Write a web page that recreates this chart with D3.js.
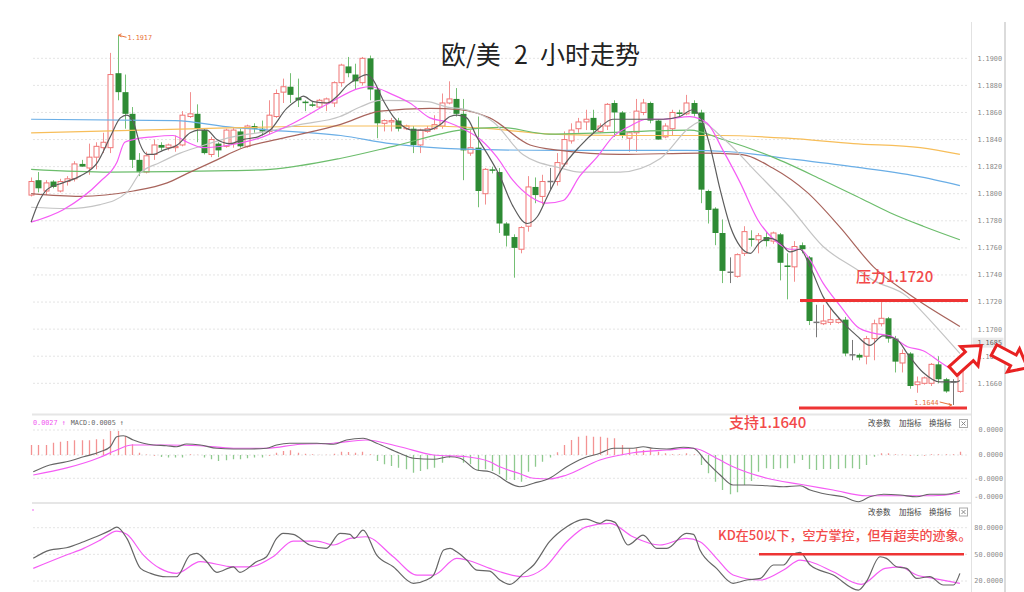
<!DOCTYPE html>
<html><head><meta charset="utf-8">
<script src="https://cdn.jsdelivr.net/npm/d3@7/dist/d3.min.js"></script>
<style>body{margin:0;background:#fff}svg{display:block}</style>
</head><body>
<svg id="c" width="1024" height="592"></svg>
<script>
// ---------------- DATA ----------------
const opens = [1.1799,1.1810,1.1802,1.1809,1.1802,1.1809,1.1811,1.1822,1.1819,1.1827,
1.1834,1.1834,1.1889,1.1875,1.1859,1.1825,1.1816,1.1829,1.1836,1.1834,
1.1834,1.1836,1.1857,1.1859,1.1847,1.1829,1.1837,1.1835,1.1837,1.1846,
1.1835,1.1850,1.1848,1.1846,1.1857,1.1875,1.1879,1.1871,1.1868,1.1866,
1.1864,1.1867,1.1867,1.1882,1.1894,1.1888,1.1882,1.1900,1.1877,1.1852,
1.1853,1.1854,1.1848,1.1848,1.1836,1.1846,1.1848,1.1850,1.1867,1.1870,
1.1859,1.1830,1.1834,1.1800,1.1818,1.1816,1.1778,1.1768,1.1759,1.1776,
1.1805,1.1798,1.1809,1.1809,1.1822,1.1839,1.1848,1.1853,1.1856,1.1846,
1.1850,1.1867,1.1860,1.1841,1.1845,1.1860,1.1867,1.1854,1.1842,1.1848,
1.1860,1.1859,1.1867,1.1860,1.1802,1.1789,1.1771,1.1742,1.1739,1.1756,
1.1767,1.1766,1.1768,1.1765,1.1770,1.1747,1.1746,1.1762,1.1753,1.1705,
1.1704,1.1705,1.1705,1.1707,1.1681,1.1681,1.1680,1.1693,1.1704,1.1708,
1.1693,1.1675,1.1682,1.1659,1.1660,1.1660,1.1674,1.1663,1.1661,1.1654];
const highs = [1.1812,1.1816,1.1810,1.1810,1.1811,1.1813,1.1824,1.1825,1.1837,1.1838,
1.1845,1.1904,1.1917,1.1888,1.1864,1.1830,1.1831,1.1840,1.1838,1.1837,
1.1843,1.1861,1.1875,1.1866,1.1848,1.1842,1.1838,1.1848,1.1849,1.1848,
1.1851,1.1852,1.1854,1.1869,1.1877,1.1885,1.1889,1.1885,1.1869,1.1868,
1.1870,1.1871,1.1883,1.1896,1.1901,1.1896,1.1901,1.1902,1.1878,1.1855,
1.1856,1.1856,1.1851,1.1850,1.1848,1.1850,1.1858,1.1874,1.1883,1.1878,
1.1870,1.1847,1.1857,1.1819,1.1820,1.1819,1.1779,1.1770,1.1776,1.1813,
1.1812,1.1814,1.1819,1.1830,1.1846,1.1852,1.1856,1.1862,1.1862,1.1852,
1.1867,1.1869,1.1861,1.1846,1.1870,1.1870,1.1868,1.1855,1.1852,1.1862,
1.1862,1.1873,1.1869,1.1862,1.1803,1.1790,1.1781,1.1753,1.1756,1.1776,
1.1773,1.1771,1.1772,1.1772,1.1771,1.1756,1.1765,1.1764,1.1754,1.1718,
1.1718,1.1716,1.1709,1.1709,1.1692,1.1682,1.1695,1.1707,1.1720,1.1709,
1.1695,1.1685,1.1683,1.1665,1.1665,1.1675,1.1680,1.1664,1.1663,1.1676];
const lows = [1.1798,1.1801,1.1799,1.1804,1.1801,1.1806,1.1809,1.1820,1.1814,1.1818,
1.1830,1.1830,1.1869,1.1848,1.1819,1.1813,1.1815,1.1825,1.1832,1.1832,
1.1831,1.1835,1.1856,1.1838,1.1829,1.1827,1.1827,1.1834,1.1834,1.1834,
1.1834,1.1845,1.1843,1.1844,1.1856,1.1867,1.1867,1.1864,1.1861,1.1864,
1.1863,1.1861,1.1864,1.1879,1.1886,1.1877,1.1880,1.1869,1.1841,1.1846,
1.1846,1.1846,1.1847,1.1830,1.1830,1.1845,1.1847,1.1848,1.1866,1.1857,
1.1810,1.1828,1.1790,1.1792,1.1815,1.1771,1.1761,1.1738,1.1756,1.1772,
1.1793,1.1792,1.1803,1.1806,1.1820,1.1837,1.1845,1.1847,1.1845,1.1845,
1.1847,1.1842,1.1841,1.1831,1.1831,1.1858,1.1852,1.1840,1.1841,1.1843,
1.1857,1.1858,1.1857,1.1793,1.1778,1.1762,1.1734,1.1734,1.1738,1.1754,
1.1761,1.1756,1.1761,1.1763,1.1736,1.1722,1.1735,1.1756,1.1703,1.1694,
1.1703,1.1703,1.1704,1.1680,1.1677,1.1677,1.1674,1.1677,1.1702,1.1690,
1.1668,1.1668,1.1656,1.1653,1.1659,1.1658,1.1660,1.1653,1.1644,1.1653];
const closes = [1.1809,1.1804,1.1808,1.1805,1.1809,1.1811,1.1822,1.1820,1.1827,1.1835,
1.1838,1.1888,1.1875,1.1859,1.1825,1.1816,1.1828,1.1836,1.1834,1.1836,
1.1835,1.1858,1.1859,1.1848,1.1830,1.1840,1.1832,1.1847,1.1847,1.1835,
1.1850,1.1848,1.1846,1.1858,1.1874,1.1879,1.1873,1.1869,1.1867,1.1865,
1.1869,1.1870,1.1882,1.1895,1.1889,1.1883,1.1900,1.1877,1.1852,1.1854,
1.1854,1.1848,1.1850,1.1836,1.1847,1.1848,1.1851,1.1867,1.1870,1.1859,
1.1832,1.1834,1.1802,1.1818,1.1817,1.1778,1.1769,1.1760,1.1775,1.1805,
1.1799,1.1809,1.1809,1.1823,1.1840,1.1847,1.1853,1.1855,1.1847,1.1850,
1.1866,1.1860,1.1843,1.1845,1.1861,1.1867,1.1854,1.1840,1.1850,1.1860,
1.1859,1.1867,1.1859,1.1803,1.1788,1.1771,1.1743,1.1742,1.1755,1.1772,
1.1766,1.1769,1.1765,1.1771,1.1749,1.1746,1.1761,1.1759,1.1706,1.1705,
1.1706,1.1707,1.1707,1.1682,1.1681,1.1679,1.1693,1.1704,1.1708,1.1693,
1.1676,1.1682,1.1658,1.1661,1.1664,1.1674,1.1663,1.1654,1.1661,1.1674];

// moving averages: [bar index, price]
const ma5 = [[0,1.1779],[1,1.1793],[2.2,1.1803],[4.4,1.1808],[6.8,1.1813],[9.2,1.1823],[11,1.1842],[12.4,1.1856],[13.3,1.1858],[14.2,1.1853],[15.1,1.1837],[16.1,1.1829],[17,1.1829],[18.3,1.1832],[20.3,1.1836],[22.1,1.1845],[23.2,1.1847],[24.4,1.1847],[25.8,1.1840],[27.6,1.1837],[29.4,1.1840],[31.5,1.1842],[33.2,1.1847],[35.5,1.1863],[36.9,1.1869],[37.8,1.1872],[39.2,1.1868],[41.1,1.1867],[42.5,1.1872],[43.9,1.1880],[45.3,1.1885],[46.6,1.1888],[47.5,1.1884],[48.9,1.1869],[50.3,1.1857],[51.6,1.1850],[53,1.1847],[55,1.1847],[56.8,1.1851],[58.2,1.1857],[59.2,1.1858],[60.5,1.1856],[61.9,1.1842],[63.3,1.1830],[65.1,1.1813],[66.9,1.1791],[68.9,1.1778],[70.3,1.1783],[71.7,1.1798],[73.9,1.1820],[76.2,1.1835],[78.6,1.1847],[80.8,1.1855],[83.2,1.1855],[85.5,1.1855],[87.8,1.1855],[90.1,1.1857],[91.9,1.1862],[92.9,1.1857],[94.3,1.1835],[95.7,1.1803],[97.1,1.1776],[98.5,1.1761],[99.9,1.1756],[101.2,1.1764],[102.6,1.1767],[104,1.1764],[105.4,1.1757],[106.8,1.1759],[108.2,1.1746],[110,1.1724],[112.4,1.1707],[114.7,1.1695],[116.5,1.1688],[118.3,1.1695],[120.3,1.1692],[121.7,1.1682],[123.9,1.1668],[126.2,1.1661],[128.6,1.1661],[129,1.1662]];
const ma10 = [[0,1.1779],[4.4,1.1788],[9.6,1.1809],[11.9,1.1823],[13,1.1838],[14.2,1.1840],[16.9,1.1842],[19.7,1.1843],[21.7,1.1838],[23.9,1.1834],[27.6,1.1836],[32.2,1.1842],[36.4,1.1852],[41.1,1.1866],[45.7,1.1878],[47.1,1.1879],[50.3,1.1873],[52.6,1.1867],[55.4,1.1856],[57.8,1.1853],[60.3,1.1847],[62.4,1.1840],[64.7,1.1827],[66.9,1.1810],[69.3,1.1798],[71.6,1.1793],[73.9,1.1795],[76.2,1.1813],[78.6,1.1827],[80.8,1.1842],[83.2,1.1850],[85.5,1.1855],[87.8,1.1855],[91.5,1.1857],[93.9,1.1852],[96.1,1.1832],[98.5,1.1808],[100.9,1.1781],[103.2,1.1766],[105.4,1.1759],[106.8,1.1759],[108.2,1.1751],[110,1.1734],[112.4,1.1717],[114.7,1.1702],[117,1.1697],[119.3,1.1695],[121.7,1.1687],[123.9,1.1684],[126.2,1.1676],[129,1.1666]];
const ma20 = [[0,1.1790],[5,1.1789],[9.6,1.1792],[13.3,1.1801],[15.1,1.1815],[17.9,1.1823],[20.7,1.1830],[23.5,1.1835],[28,1.1842],[32.8,1.1846],[37.3,1.1851],[42.9,1.1857],[45.7,1.1864],[48.5,1.1869],[55,1.1868],[57.8,1.1864],[60.5,1.1862],[64.2,1.1853],[68.3,1.1829],[73.5,1.1819],[76.2,1.1816],[81.8,1.1816],[87.4,1.1826],[91.5,1.1849],[92.9,1.1853],[96.1,1.1841],[100.9,1.1815],[105.4,1.1790],[110,1.1761],[114.7,1.1744],[117,1.1736],[121.7,1.1724],[123.9,1.1712],[129,1.1682]];
const ma30 = [[0,1.1800],[6.8,1.1798],[14.2,1.1802],[18.9,1.1808],[21.7,1.1815],[25.8,1.1825],[29,1.1833],[35,1.1841],[42.9,1.1851],[48.5,1.1861],[55.4,1.1863],[59.6,1.1862],[63.7,1.1856],[69.3,1.1836],[73.5,1.1832],[81.8,1.1829],[92.9,1.1830],[98.5,1.1829],[103,1.1819],[107.8,1.1801],[112.4,1.1775],[117,1.1746],[121.6,1.1727],[129,1.1702]];
const ma60 = [[0,1.1818],[11,1.1816],[27.6,1.1817],[33.2,1.1818],[42.9,1.1826],[50.3,1.1835],[59.6,1.1847],[65.1,1.1849],[72,1.1844],[79,1.1845],[91.5,1.1847],[96.1,1.1840],[103,1.1827],[110,1.1810],[114.7,1.1798],[119.3,1.1786],[123.9,1.1776],[129,1.1766]];
const ma120 = [[0,1.1845],[23.5,1.1848],[43,1.1850],[55.4,1.1850],[63.7,1.1848],[72,1.1844],[81.8,1.1843],[95.7,1.1843],[105,1.1841],[114.2,1.1837],[123.5,1.1834],[129,1.1829]];
const ma250 = [[0,1.1855],[20,1.1854],[28,1.1849],[33,1.1847],[43,1.1843],[50,1.1837],[60,1.1833],[73,1.1832],[91,1.1832],[97,1.1831],[105,1.1826],[114,1.1820],[123,1.1813],[129,1.1806]];

const priceTicks = [1.1660,1.1680,1.1700,1.1720,1.1740,1.1760,1.1780,1.1800,1.1820,1.1840,1.1860,1.1880,1.1900];

// MACD (units of 0.0001)
const macdHist = [0.40,0.40,0.40,0.49,0.53,0.56,0.59,0.59,0.59,0.63,
0.63,0.96,0.96,0.76,0.43,0.09,0.02,0,-0.08,-0.1,
-0.1,-0.1,0.03,0.01,-0.1,-0.17,-0.24,-0.21,-0.17,-0.17,
-0.13,-0.1,-0.1,0,0.09,0.16,0.19,0.09,0.05,0.03,
0.01,0.01,0.05,0.13,0.12,0.09,0.13,0.03,-0.24,-0.37,
-0.44,-0.51,-0.57,-0.71,-0.64,-0.57,-0.51,-0.31,-0.11,0,
-0.31,-0.37,-0.64,-0.57,-0.64,-0.77,-1.0,-1.0,-1.07,-0.67,
-0.47,-0.27,-0.1,0.11,0.4,0.6,0.73,0.77,0.73,0.73,
0.69,0.67,0.4,0.27,0.27,0.2,0.27,0.13,0.07,0.03,
0.03,0.07,0.03,-0.4,-0.73,-1.07,-1.4,-1.57,-1.49,-1.2,
-1.04,-0.67,-0.53,-0.56,-0.53,-0.53,-0.33,-0.2,-0.56,-0.6,
-0.56,-0.56,-0.56,-0.53,-0.53,-0.56,-0.4,-0.07,0.07,0.07,
0.03,0.02,0,-0.03,0,0.03,0.03,0.03,0.03,0.13];
const macdDif = [[0.3,-0.67],[2.6,-0.4],[4.9,-0.27],[7.3,-0.07],[9.6,0.13],[11,0.33],[11.9,0.73],[12.8,0.77],[14.2,0.6],[15.6,0.47],[17,0.4],[18.8,0.37],[20.2,0.33],[21.6,0.44],[23.5,0.4],[25.8,0.27],[28.1,0.24],[30.4,0.24],[32.7,0.27],[34.1,0.4],[35.9,0.47],[39.7,0.47],[42,0.43],[43.8,0.6],[46.1,0.67],[48,0.47],[51.2,0.07],[53.1,-0.13],[55.9,-0.17],[58.2,-0.07],[59.6,-0.13],[61.9,-0.6],[63.7,-0.67],[65.1,-0.87],[66.1,-1.07],[67.9,-1.27],[69.8,-1.13],[72,-0.93],[74.4,-0.47],[76.7,-0.13],[79,0.07],[80.9,0.27],[83.6,0.27],[85,0.33],[86.4,0.27],[88.3,0.24],[90.6,0.31],[92,0.27],[93.8,-0.27],[95.7,-0.8],[97.5,-1.2],[99.8,-1.2],[102.2,-1.23],[104.5,-1.27],[106.8,-1.23],[108.2,-1.4],[110.5,-1.57],[112.8,-1.67],[114.9,-1.87],[116.5,-1.67],[118.4,-1.57],[120.7,-1.6],[123,-1.67],[124.8,-1.57],[127.1,-1.57],[129,-1.44]];
const macdDea = [[0.3,-0.8],[9.6,-0.09],[11.9,0.2],[14,0.4],[18.8,0.4],[23.5,0.37],[28.1,0.27],[32.7,0.27],[37.4,0.43],[42,0.47],[46.5,0.6],[51.2,0.33],[55.9,0],[60.5,-0.07],[63.7,-0.27],[65.1,-0.47],[67.9,-0.75],[69.8,-0.93],[72,-0.96],[74.4,-0.8],[79,-0.2],[83.6,0.09],[88.3,0.2],[92,0.27],[95.2,-0.13],[97.5,-0.47],[102.2,-0.93],[106.8,-1.17],[111.4,-1.4],[116,-1.63],[120.7,-1.63],[125.3,-1.63],[129,-1.53]];
const macdTicks = [1, 0, -0.93, -1.67];
const macdTickLabels = ["0.0000","0.0000","-0.0000","-0.0000"];

// KD
const kdK = [[0.3,45.5],[2.6,54.8],[4.9,57.4],[7.3,64.2],[9.6,71.7],[11,77],[11.9,80.7],[13.3,68],[15.2,34.2],[16.6,28.6],[18.8,24.8],[20.2,24.8],[22.1,49.2],[23,51.1],[24.4,41.7],[25.8,29.8],[28.1,36],[29,29.8],[31.3,41.7],[32.7,47.3],[34.1,68],[35,73.6],[36.4,72.5],[38.7,60.5],[41,56.7],[42.9,73.6],[44.3,72.5],[44.9,68],[46.1,77.3],[48,49.2],[50.3,36],[53.1,17.4],[54.9,21.1],[55.9,26.7],[57.3,54.8],[58.2,56.7],[59.1,52.9],[60.5,43.6],[61.9,32.3],[63.7,31.2],[65.1,21.1],[66.5,16.2],[68.4,28.6],[69.8,38],[72,64.2],[74.4,81],[76.2,88.6],[77.1,89.7],[79,84.9],[79.9,88.6],[81.1,86],[82.9,60.5],[85,71.7],[86.9,56.7],[88.3,56.7],[91,73.6],[92,72.5],[92.9,54.8],[95.2,34.2],[97.5,17.4],[99.4,21.1],[101.3,23],[103.1,38],[104.5,38],[105.7,49.2],[106.8,52.2],[108.2,38],[111.4,26.7],[114.9,9.8],[116,19.2],[117.9,47.3],[118.8,45.5],[120.2,36],[121.6,34.2],[123,23],[124.8,24.9],[126.7,15.5],[128.1,15.5],[129,28.6]];
const kdD = [[0.3,34.2],[4.9,49.2],[7.3,56.7],[9.6,66],[11.9,76.2],[13.3,72.5],[15.6,49.2],[17.9,34.2],[20.2,28.6],[23.5,41.7],[28.1,36],[30.4,36],[33.6,47.3],[36.4,65],[39.7,65],[42,60.5],[44.3,68],[46.5,69.8],[50.3,47.3],[53.6,26.7],[55.9,26.7],[59.1,45.5],[60.5,43.6],[63.7,34.2],[65.1,30.4],[68.4,24.8],[71.2,34.2],[74.4,64.2],[77.1,81],[80.4,84.9],[83.6,69.8],[87.3,60.5],[91,68],[92.9,64.2],[95.2,45.5],[97.5,26.7],[101.3,21.1],[104.5,32.3],[106.8,43.6],[108.2,41.7],[111.4,30.4],[115.3,16.2],[118.6,34.2],[120.7,36],[123,26.7],[125.3,23],[129,17.4]];
const kdTicks = [80, 50, 20];

const resistance = 1.1720, support = 1.1640, kdLevel = 50;
const markPrice = 1.1690, markLabel = "1.1685";

// ---------------- DRAW ----------------
const svg = d3.select('#c');
const x = d3.scaleLinear().domain([0,129]).range([31.1,959.9]);
const y = d3.scaleLinear().domain([1.166,1.19]).range([383.3,58.3]);
const yM = d3.scaleLinear().domain([0,1]).range([455,430]);
const yK = d3.scaleLinear().domain([20,80]).range([581,527.7]);
const PL = 33, PR = 968;
const mono = "'DejaVu Sans Mono', monospace";
const cjk = "'Noto Sans CJK SC', sans-serif";

// frame lines
svg.append('line').attr('x1',971.5).attr('x2',971.5).attr('y1',22).attr('y2',592).attr('stroke','#e2e2e2');
svg.append('line').attr('x1',1005).attr('x2',1005).attr('y1',22).attr('y2',592).attr('stroke','#cfcfcf').attr('stroke-width',1.5);
[414.5, 503].forEach(v=>svg.append('line').attr('x1',32).attr('x2',971).attr('y1',v).attr('y2',v).attr('stroke','#e6e6e6').attr('stroke-width',2));

// grids
const grid = svg.append('g').attr('stroke','#e4e4e4').attr('stroke-dasharray','2,2');
priceTicks.forEach(t=>grid.append('line').attr('x1',PL).attr('x2',PR).attr('y1',y(t)).attr('y2',y(t)));
macdTicks.slice(0,3).forEach(t=>grid.append('line').attr('x1',PL).attr('x2',PR).attr('y1',yM(t)).attr('y2',yM(t)));
kdTicks.forEach(t=>grid.append('line').attr('x1',PL).attr('x2',PR).attr('y1',yK(t)).attr('y2',yK(t)));

// axis labels
const fmt = d3.format('.4f');
const ax = svg.append('g').attr('font-family',mono).attr('font-size',6.8).attr('fill','#8a8a8a').attr('text-anchor','end');
priceTicks.forEach(t=>ax.append('text').attr('x',1002).attr('y',y(t)+2.4).text(fmt(t)));
macdTicks.forEach((t,k)=>ax.append('text').attr('x',1003).attr('y',yM(t)+2.4).text(macdTickLabels[k]));
kdTicks.forEach(t=>ax.append('text').attr('x',1003).attr('y',yK(t)+2.4).text(fmt(t)));
// current price box
svg.append('rect').attr('x',972.5).attr('y',y(markPrice)-5).attr('width',31).attr('height',10).attr('fill','#e9e9e9');
svg.append('text').attr('x',1002).attr('y',y(markPrice)+2.4).attr('text-anchor','end').attr('font-family',mono).attr('font-size',6.8).attr('fill','#666').text(markLabel);

// candles
const RED='#f07474', REDW='#f29090', GREEN='#2e8b34', GREENW='#74bf74', GRAY='#777';
const cg = svg.append('g');
opens.forEach((o,i)=>{
  const c=closes[i], h=highs[i], l=lows[i], cx=Math.round(x(i))+0.5;
  const top=y(Math.max(o,c)), bot=y(Math.min(o,c));
  if(c>o){
    cg.append('line').attr('x1',cx).attr('x2',cx).attr('y1',y(h)).attr('y2',top).attr('stroke',REDW);
    cg.append('line').attr('x1',cx).attr('x2',cx).attr('y1',bot).attr('y2',y(l)).attr('stroke',REDW);
    cg.append('rect').attr('x',cx-2.5).attr('y',top).attr('width',5).attr('height',Math.max(bot-top,1)).attr('fill','#fff').attr('stroke',RED);
  } else if(c<o){
    cg.append('line').attr('x1',cx).attr('x2',cx).attr('y1',y(h)).attr('y2',y(l)).attr('stroke',GREENW);
    cg.append('rect').attr('x',cx-3).attr('y',top).attr('width',6).attr('height',Math.max(bot-top,1.5)).attr('fill',GREEN);
  } else {
    cg.append('line').attr('x1',cx).attr('x2',cx).attr('y1',y(h)).attr('y2',y(l)).attr('stroke',GRAY);
    cg.append('line').attr('x1',cx-3).attr('x2',cx+3).attr('y1',top).attr('y2',top).attr('stroke',GRAY).attr('stroke-width',1.5);
  }
});

// MA lines
const lp = d3.line().x(d=>x(d[0])).y(d=>y(d[1])).curve(d3.curveMonotoneX);
[[ma250,'#6aaee6'],[ma120,'#f7be5a'],[ma60,'#6cbd6c'],[ma30,'#a8645c'],[ma20,'#c4c4c4'],[ma10,'#f55cf5'],[ma5,'#5c5c5c']]
 .forEach(([d,c])=>svg.append('path').attr('d',lp(d)).attr('fill','none').attr('stroke',c).attr('stroke-width',1.2));

// high / low markers
const hiI = d3.maxIndex(highs), loI = d3.minIndex(lows);
const mk = svg.append('g').attr('stroke','#e8733a').attr('fill','none');
mk.append('path').attr('d',`M${x(hiI)+1},${y(highs[hiI])} L${x(hiI)+9},${y(highs[hiI])+2} M${x(hiI)+1},${y(highs[hiI])} l3,-1.5 M${x(hiI)+1},${y(highs[hiI])} l3,1.5`);
svg.append('text').attr('x',x(hiI)+10).attr('y',y(highs[hiI])+5).attr('font-family',mono).attr('font-size',6.8).attr('fill','#e8733a').text(fmt(highs[hiI]));
mk.append('path').attr('d',`M${x(loI)-1},${y(lows[loI])} L${x(loI)-13},${y(lows[loI])-3} M${x(loI)-1},${y(lows[loI])} l-3,-1.5 M${x(loI)-1},${y(lows[loI])} l-3,1.5`);
svg.append('text').attr('x',x(loI)-14).attr('y',y(lows[loI])).attr('text-anchor','end').attr('font-family',mono).attr('font-size',6.8).attr('fill','#e8733a').text(fmt(lows[loI]));

// MACD panel
const mg = svg.append('g');
macdHist.forEach((v,i)=>{
  const cx=Math.round(x(i))+0.5;
  mg.append('line').attr('x1',cx).attr('x2',cx).attr('y1',yM(0)).attr('y2',v===0?yM(0)+0.8:yM(v))
    .attr('stroke',v>=0?'#f39393':'#8fca8f').attr('stroke-width',1.3);
});
const lm = d3.line().x(d=>x(d[0])).y(d=>yM(d[1])).curve(d3.curveMonotoneX);
svg.append('path').attr('d',lm(macdDea)).attr('fill','none').attr('stroke','#f55cf5').attr('stroke-width',1.2);
svg.append('path').attr('d',lm(macdDif)).attr('fill','none').attr('stroke','#666').attr('stroke-width',1.2);
const hdr = svg.append('text').attr('x',33).attr('y',424.5).attr('font-family',mono).attr('font-size',6.8);
hdr.append('tspan').attr('fill','#f055f0').text('0.0027 ↑');
hdr.append('tspan').attr('fill','#666').attr('dx',5).text('MACD:0.0005 ↑');

// KD panel
const lk = d3.line().x(d=>x(d[0])).y(d=>yK(d[1])).curve(d3.curveMonotoneX);
svg.append('path').attr('d',lk(kdD)).attr('fill','none').attr('stroke','#f55cf5').attr('stroke-width',1.2);
svg.append('path').attr('d',lk(kdK)).attr('fill','none').attr('stroke','#666').attr('stroke-width',1.2);
svg.append('circle').attr('cx',33).attr('cy',510).attr('r',0.8).attr('fill','#f055f0');

// panel buttons
[423.5, 512].forEach(by=>{
  const bg = svg.append('g').attr('font-family',cjk).attr('font-size',7.5).attr('fill','#444');
  bg.append('text').attr('x',868).attr('y',by+2.6).text('改参数');
  bg.append('text').attr('x',899).attr('y',by+2.6).text('加指标');
  bg.append('text').attr('x',929).attr('y',by+2.6).text('换指标');
  svg.append('rect').attr('x',959.5).attr('y',by-4).attr('width',8).attr('height',8).attr('fill','#fff').attr('stroke','#aaa');
  svg.append('path').attr('d',`M${961.5},${by-2} l4,4 M${965.5},${by-2} l-4,4`).attr('stroke','#888');
});

// annotations
const RL='#ee3434';
svg.append('line').attr('x1',800).attr('x2',968).attr('y1',y(resistance)-1.5).attr('y2',y(resistance)-1.5).attr('stroke',RL).attr('stroke-width',3);
svg.append('line').attr('x1',799).attr('x2',967).attr('y1',y(support)-2.3).attr('y2',y(support)-2.3).attr('stroke',RL).attr('stroke-width',3);
svg.append('line').attr('x1',759).attr('x2',964).attr('y1',yK(kdLevel)).attr('y2',yK(kdLevel)).attr('stroke',RL).attr('stroke-width',2.5);
const at = svg.append('g').attr('font-family',cjk).attr('fill','#f24a4a').attr('font-weight',500);
at.append('text').attr('x',856).attr('y',282).attr('font-size',15).text('压力1.1720');
at.append('text').attr('x',729).attr('y',428).attr('font-size',15).text('支持1.1640');
at.append('text').attr('x',718).attr('y',539.5).attr('font-size',13).text('KD在50以下，空方掌控，但有超卖的迹象。');

// arrows
const arrowPath = 'M0,-6 L22,-6 L22,-13 L38,0 L22,13 L22,6 L0,6 Z';
svg.append('path').attr('d',arrowPath).attr('transform','translate(953,371) rotate(-42)')
  .attr('fill','#fff').attr('stroke','#e82222').attr('stroke-width',3).attr('stroke-linejoin','miter');
svg.append('path').attr('d',arrowPath).attr('transform','translate(994,350) rotate(28)')
  .attr('fill','#fff').attr('stroke','#e82222').attr('stroke-width',3).attr('stroke-linejoin','miter');

// title
const tt = svg.append('text').attr('y',64).attr('font-family',cjk).attr('font-size',25).attr('fill','#222');
tt.append('tspan').attr('x',441).text('欧/美');
tt.append('tspan').attr('x',514).text('2');
tt.append('tspan').attr('x',540).text('小时走势');
</script>
</body></html>
